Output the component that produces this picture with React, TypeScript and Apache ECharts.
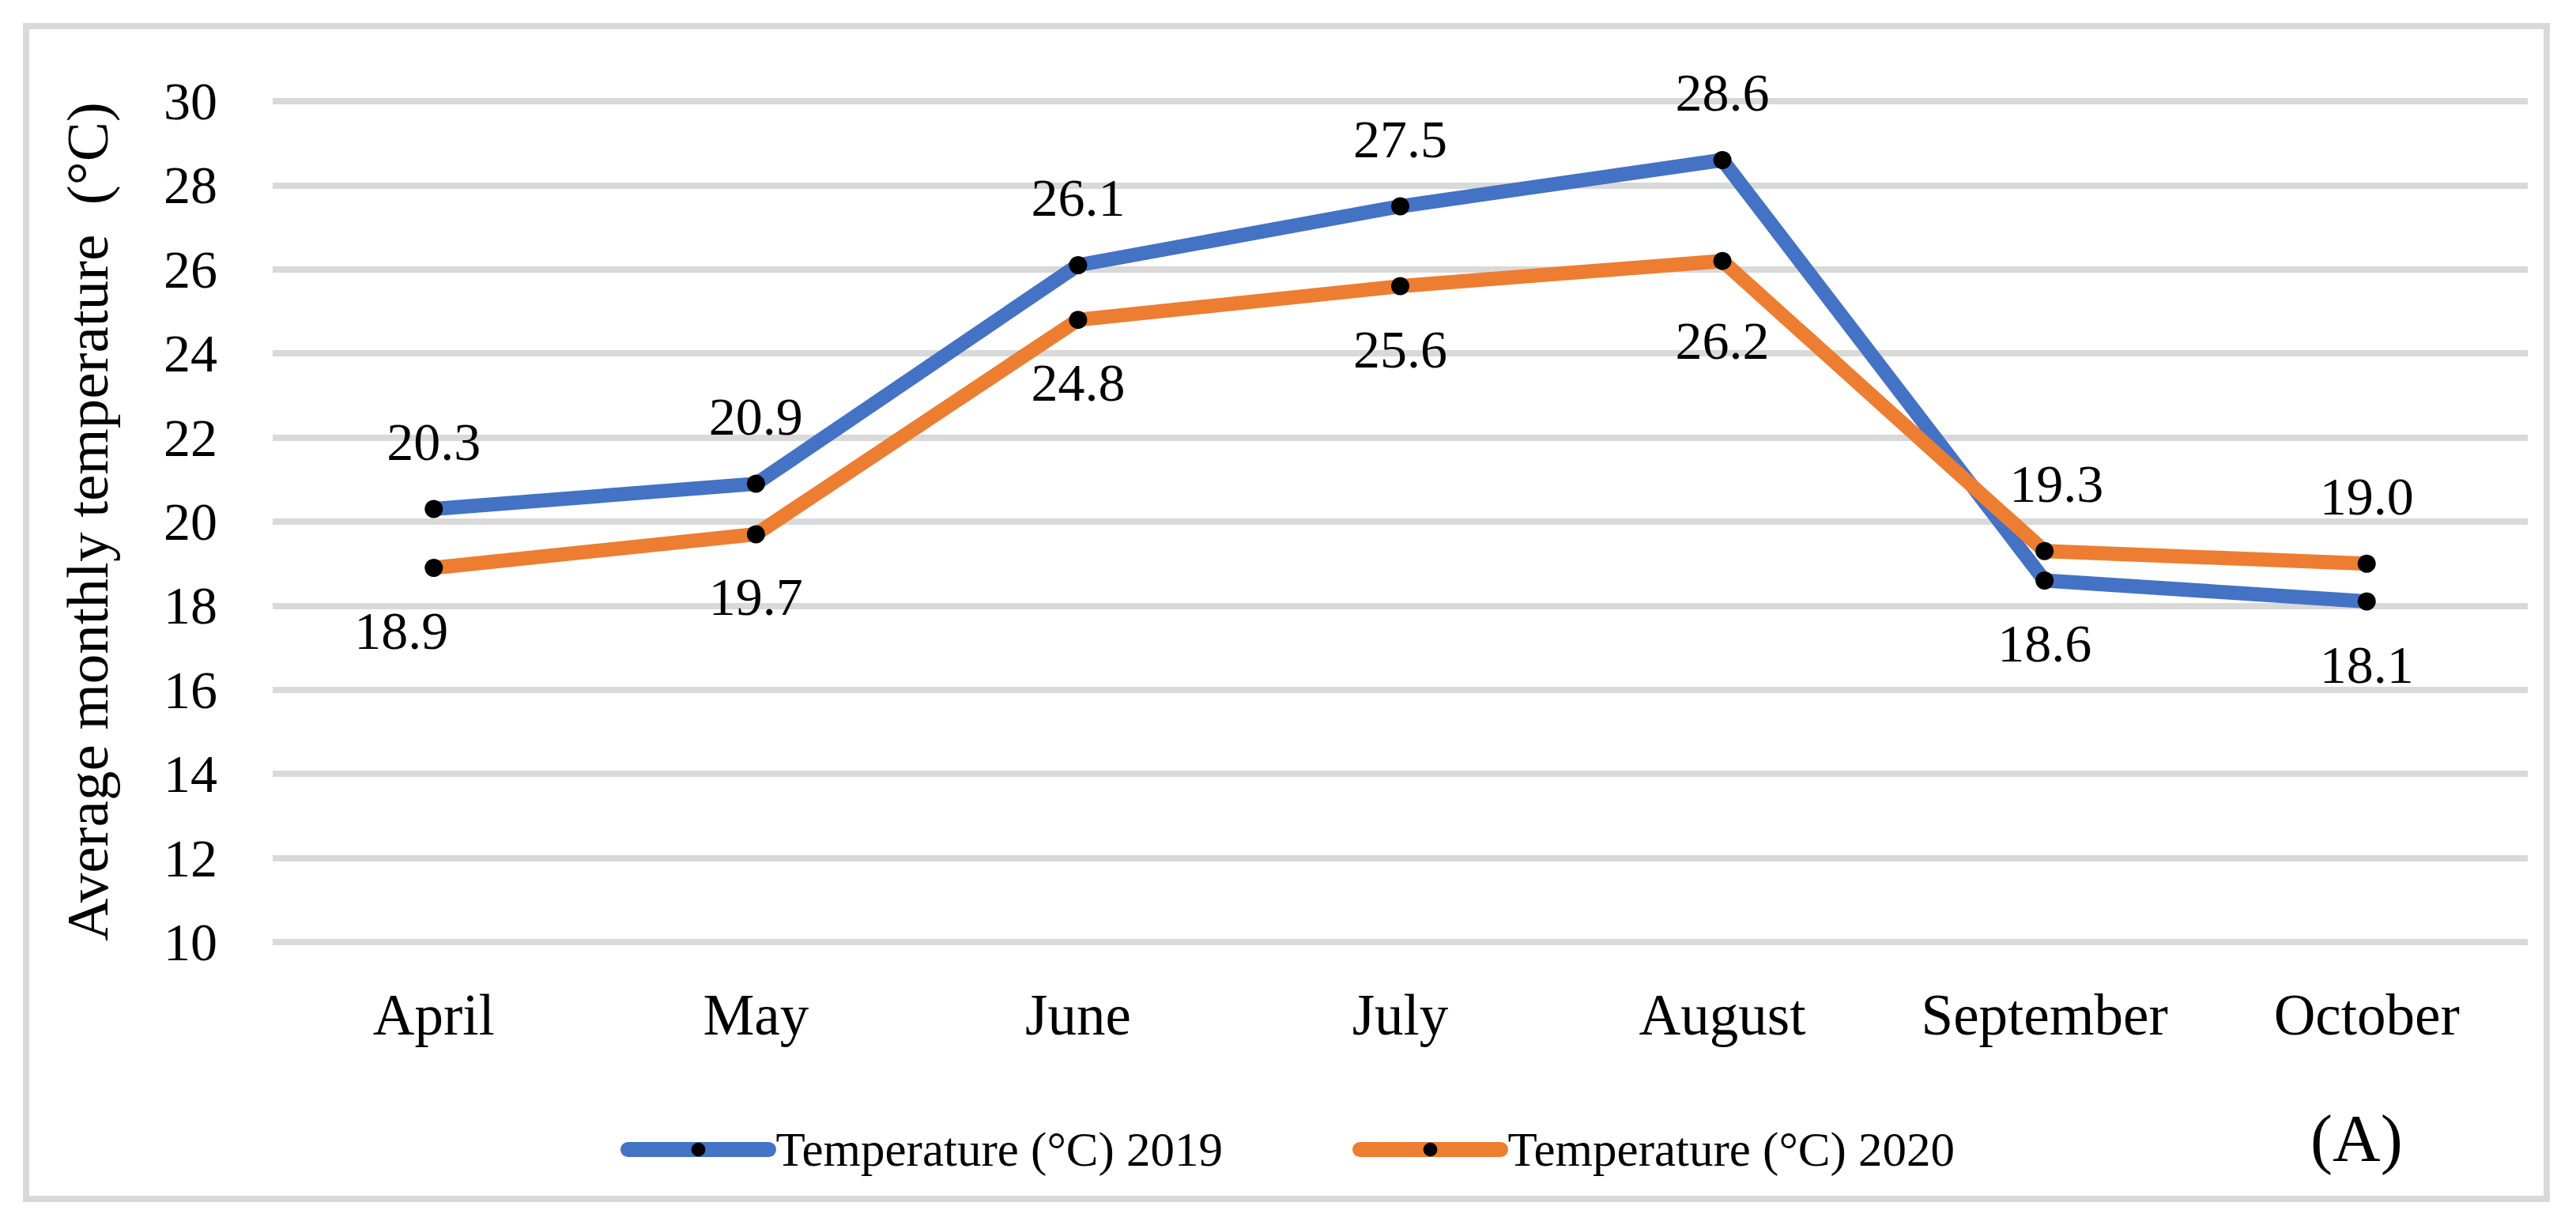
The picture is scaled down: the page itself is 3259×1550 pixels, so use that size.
import React, { useEffect, useRef } from "react";
import * as echarts from "echarts";

const months = ["April", "May", "June", "July", "August", "September", "October"];
const temp2019 = [20.3, 20.9, 26.1, 27.5, 28.6, 18.6, 18.1];
const temp2020 = [18.9, 19.7, 24.8, 25.6, 26.2, 19.3, 19.0];
const labelSide2019 = ["top", "top", "top", "top", "top", "bottom", "bottom"];
const labelSide2020 = ["bottom", "bottom", "bottom", "bottom", "bottom", "top", "top"];
const labelGap2019 = [40, 40, 40, 40, 40, 34, 34];
const labelGap2020 = [34, 34, 34, 34, 55, 40, 40];
const labelShift2020 = [-41, 0, 0, 0, 0, 15, 0];
const seriesNames = ["Temperature (°C) 2019", "Temperature (°C) 2020"];
const yAxisTitle = "Average monthly temperature  (°C)";

const FONT = "'Liberation Serif', 'Times New Roman', serif";

function buildData(values: number[], sides: string[], gaps: number[], shifts?: number[]) {
  return values.map((v, i) => ({
    value: v,
    label: {
      position: sides[i],
      distance: gaps[i],
      offset: [shifts ? shifts[i] : 0, 0],
    },
  }));
}

export default function App() {
  const ref = useRef<HTMLDivElement>(null);
  useEffect(() => {
    if (!ref.current) return;
    const chart = echarts.init(ref.current, null, { renderer: "svg" });
    const lineSeries = (name: string, data: any[], color: string) => ({
      name,
      type: "line",
      data,
      symbol: "circle",
      symbolSize: 23,
      itemStyle: { color: "#000" },
      lineStyle: { color, width: 18, cap: "round", join: "round" },
      label: {
        show: true,
        fontSize: 68,
        fontFamily: FONT,
        color: "#000",
        formatter: (p: any) => Number(p.value).toFixed(1),
      },
    });
    chart.setOption({
      animation: false,
      backgroundColor: "#fff",
      grid: { left: 345, right: 61, top: 128, bottom: 358, containLabel: false },
      xAxis: {
        type: "category",
        data: months,
        boundaryGap: true,
        axisLine: { show: false },
        axisTick: { show: false },
        axisLabel: { fontSize: 73, fontFamily: FONT, color: "#000", margin: 56 },
      },
      yAxis: {
        type: "value",
        min: 10,
        max: 30,
        interval: 2,
        name: yAxisTitle,
        nameLocation: "middle",
        nameGap: 197,
        nameTextStyle: { fontSize: 75, fontFamily: FONT, color: "#000" },
        axisLine: { show: false },
        axisTick: { show: false },
        axisLabel: { fontSize: 68, fontFamily: FONT, color: "#000", margin: 70 },
        splitLine: { lineStyle: { color: "#d9d9d9", width: 8 } },
      },
      legend: {
        left: 780,
        top: 1419,
        itemWidth: 178,
        itemHeight: 22,
        itemGap: 164,
        lineStyle: { width: 19, cap: "round" },
        textStyle: { fontSize: 61, fontFamily: FONT, color: "#000", padding: [0, 0, 0, 4] },
        data: seriesNames,
      },
      graphic: [
        {
          type: "rect",
          shape: { x: 33, y: 33, width: 3189, height: 1484 },
          style: { fill: "none", stroke: "#d9d9d9", lineWidth: 8 },
          silent: true,
        },
        {
          type: "text",
          left: 2923,
          top: 1398,
          style: { text: "(A)", fontSize: 84, fontFamily: FONT, fill: "#000" },
        },
      ],
      series: [
        lineSeries(seriesNames[0], buildData(temp2019, labelSide2019, labelGap2019), "#4472C4"),
        lineSeries(
          seriesNames[1],
          buildData(temp2020, labelSide2020, labelGap2020, labelShift2020),
          "#ED7D31"
        ),
      ],
    });
    return () => chart.dispose();
  }, []);
  return (
    <div
      ref={ref}
      style={{ position: "fixed", left: 0, top: 0, width: 3259, height: 1550, background: "#fff" }}
    />
  );
}
